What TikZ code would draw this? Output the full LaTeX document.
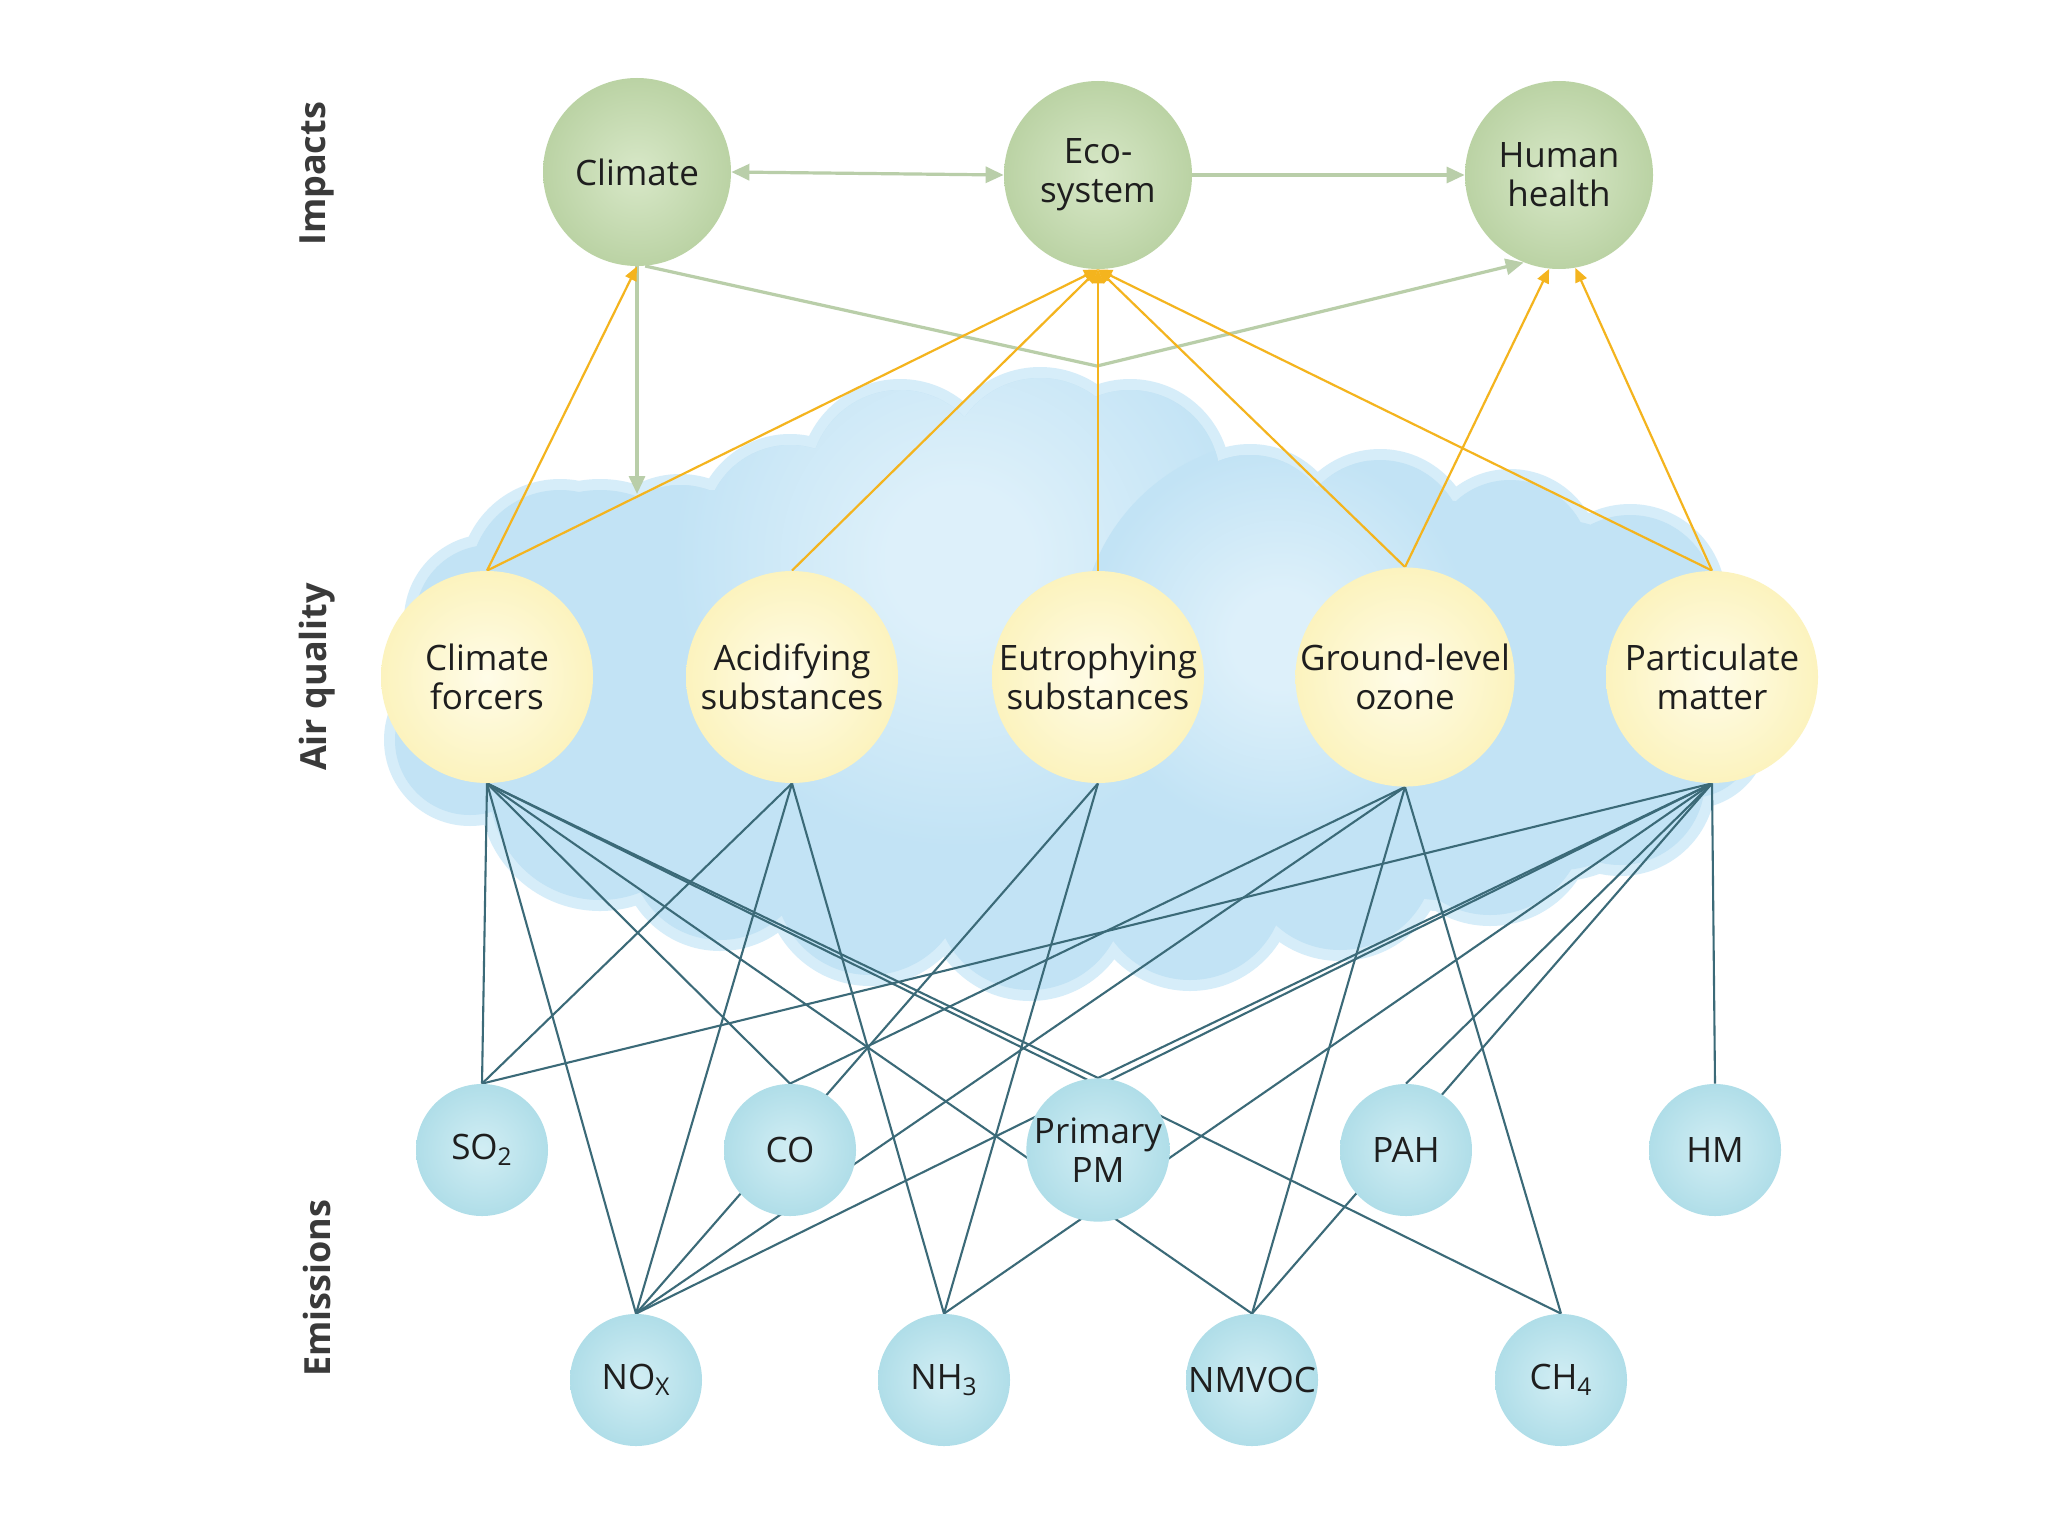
\documentclass[tikz,border=0pt]{standalone}
\usepackage{fontspec}
\setmainfont{Open Sans}
\usetikzlibrary{arrows.meta,calc}
\definecolor{gin}{HTML}{D8E8C8}
\definecolor{gout}{HTML}{9DBD80}
\definecolor{yin}{HTML}{FFFCE8}
\definecolor{yout}{HTML}{F8EA94}
\definecolor{bin}{HTML}{D2EEF4}
\definecolor{bout}{HTML}{A6D9E5}
\definecolor{cloudA}{HTML}{C2E3F5}
\definecolor{cloudB}{HTML}{D6EDF9}
\definecolor{cloudC}{HTML}{DDF0FA}
\definecolor{linkteal}{HTML}{3B6A78}
\definecolor{linkyel}{HTML}{F4B41E}
\definecolor{linkgrn}{HTML}{B9CEA9}
\definecolor{txt}{HTML}{1E1E1E}
\definecolor{sidetxt}{HTML}{3A3A3A}
\pgfdeclareradialshading{greenball}{\pgfpoint{0bp}{0bp}}{color(0bp)=(gin); color(50bp)=(gout); color(100bp)=(gout)}
\pgfdeclareradialshading{yellowball}{\pgfpoint{0bp}{0bp}}{color(0bp)=(yin); color(50bp)=(yout); color(100bp)=(yout)}
\pgfdeclareradialshading{blueball}{\pgfpoint{0bp}{0bp}}{color(0bp)=(bin); color(32bp)=(bout); color(100bp)=(bout)}
\pgfdeclareradialshading{cloudspot}{\pgfpoint{0bp}{0bp}}{color(0bp)=(cloudC); color(6bp)=(cloudC); color(24bp)=(cloudA); color(100bp)=(cloudA)}
\pgfdeclarelayer{cloudl}
\pgfdeclarelayer{edges}
\pgfsetlayers{cloudl,edges,main}
\begin{document}
\begin{tikzpicture}[x=0.5pt,y=-0.5pt,
  impact/.style={circle, inner sep=0pt, minimum size=94pt, shade, shading=greenball, align=center, text=txt, font=\fontsize{17.5}{19.5}\selectfont},
  aqnode/.style={circle, inner sep=0pt, minimum size=106pt, shade, shading=yellowball, align=center, text=txt, font=\fontsize{17.5}{19.5}\selectfont},
  emis/.style={circle, inner sep=0pt, minimum size=66pt, shade, shading=blueball, align=center, text=txt, font=\fontsize{17.5}{19.5}\selectfont},
  side/.style={rotate=90, text=sidetxt, font=\fontsize{18}{20}\selectfont\bfseries},
  link/.style={draw=linkteal, line width=1.05pt},
  yarrow/.style={draw=linkyel, line width=1.1pt, -{Triangle[length=7pt,width=6pt]}},
  garrow/.style={draw=linkgrn, line width=1.6pt, -{Triangle[length=9pt,width=8pt]}}]
\useasboundingbox (0,0) rectangle (2048,1536);

% nodes
\node[impact] (clim) at (637,172) {Climate};
\node[impact] (eco) at (1098,175) {Eco-\\system};
\node[impact] (hh) at (1559,175) {Human\\health};
\node[aqnode] (cf) at (487,677) {Climate\\forcers};
\node[aqnode] (acid) at (792,677) {Acidifying\\substances};
\node[aqnode] (eutr) at (1098,677) {Eutrophying\\substances};
\node[aqnode] (glo) at (1405,677) {Ground-level\\ozone};
\node[aqnode] (pm) at (1712,677) {Particulate\\matter};
\node[emis] (so2) at (482,1150) {SO\textsubscript{2}};
\node[emis] (co) at (790,1150) {CO};
\node[emis] (ppm) at (1098,1150) {Primary\\PM};
\node[emis] (pah) at (1406,1150) {PAH};
\node[emis] (hm) at (1715,1150) {HM};
\node[emis] (nox) at (636,1380) {NO\textsubscript{X}};
\node[emis] (nh3) at (944,1380) {NH\textsubscript{3}};
\node[emis] (nmvoc) at (1252,1380) {NMVOC};
\node[emis] (ch4) at (1561,1380) {CH\textsubscript{4}};
\node[side] (limp) at (317,174) {Impacts};
\node[side] (laq) at (317,677) {Air quality};
\node[side] (lem) at (317,1288) {Emissions};

% cloud background
\begin{pgfonlayer}{cloudl}
\fill[white] (0,0) rectangle (2048,1536);
\def\cloudlist{490/620/75,560/580/90,680/570/85,790/530/85,900/480/90,1040/470/92,1130/480/90,1250/540/85,1380/545/85,1510/560/80,1630/600/85,1690/680/68,470/740/75,580/800/80,720/850/90,870/880/95,1030/895/95,1190/885/95,1340/855/95,1490/820/95,1620/780/85,1690/730/68,540/700/120,660/700/120,780/700/120,900/700/120,1020/700/120,1140/700/120,1260/700/120,1380/700/120,1500/700/120,1620/700/100,600/600/110,720/600/110,840/590/110,960/580/110,1080/580/110,1200/590/110,1320/600/110,1440/610/110,1560/620/100,600/790/110,720/800/110,840/810/110,960/815/110,1080/815/110,1200/810/110,1320/800/110,1440/790/110,1560/770/100}
\fill[cloudB] \foreach \cx/\cy/\cr in \cloudlist {(\cx,\cy) circle[radius={(\cr+11)*0.5pt}]};
\fill[cloudA] \foreach \cx/\cy/\cr in \cloudlist {(\cx,\cy) circle[radius={\cr*0.5pt}]};
% soft lighter patches inside the cloud
\begin{scope}
\clip \foreach \cx/\cy/\cr in \cloudlist {(\cx,\cy) circle[radius={\cr*0.5pt}]};
\shade[shading=cloudspot] (960,560) circle[radius=150pt];
\shade[shading=cloudspot] (1280,640) circle[radius=100pt];
\end{scope}
\end{pgfonlayer}

% connectors
\begin{pgfonlayer}{edges}
% emissions to air quality
\draw[link] (cf.south) -- (so2.north);
\draw[link] (cf.south) -- (nox.north);
\draw[link] (cf.south) -- (co.north);
\draw[link] (cf.south) -- (ppm.north);
\draw[link] (cf.south) -- (nmvoc.north);
\draw[link] (cf.south) -- (ch4.north);
\draw[link] (acid.south) -- (so2.north);
\draw[link] (acid.south) -- (nox.north);
\draw[link] (acid.south) -- (nh3.north);
\draw[link] (eutr.south) -- (nox.north);
\draw[link] (eutr.south) -- (nh3.north);
\draw[link] (glo.south) -- (nox.north);
\draw[link] (glo.south) -- (co.north);
\draw[link] (glo.south) -- (nmvoc.north);
\draw[link] (glo.south) -- (ch4.north);
\draw[link] (pm.south) -- (so2.north);
\draw[link] (pm.south) -- (nox.north);
\draw[link] (pm.south) -- (nh3.north);
\draw[link] (pm.south) -- (ppm.north);
\draw[link] (pm.south) -- (nmvoc.north);
\draw[link] (pm.south) -- (pah.north);
\draw[link] (pm.south) -- (hm.north);
% green impact links
\coordinate (cdown) at (637,494);
\coordinate (bend) at (1097,366);
\draw[garrow, line join=round] (clim.-85) -- (bend) -- (hh.-112);
\draw[garrow] (clim.south) -- (cdown);
\draw[garrow, {Triangle[length=9pt,width=8pt]}-{Triangle[length=9pt,width=8pt]}] (clim.east) -- (eco.west);
\draw[garrow] (eco.east) -- (hh.west);
% air quality to impacts
\draw[yarrow] (cf.north) -- (clim.south);
\draw[yarrow] (cf.north) -- (eco.south);
\draw[yarrow] (acid.north) -- (eco.south);
\draw[yarrow] (eutr.north) -- (eco.south);
\draw[yarrow] (glo.north) -- (eco.south);
\draw[yarrow] (pm.north) -- (eco.south);
\draw[yarrow] (glo.north) -- (hh.-96);
\draw[yarrow] (pm.north) -- (hh.-80);
\end{pgfonlayer}
\end{tikzpicture}
\end{document}
